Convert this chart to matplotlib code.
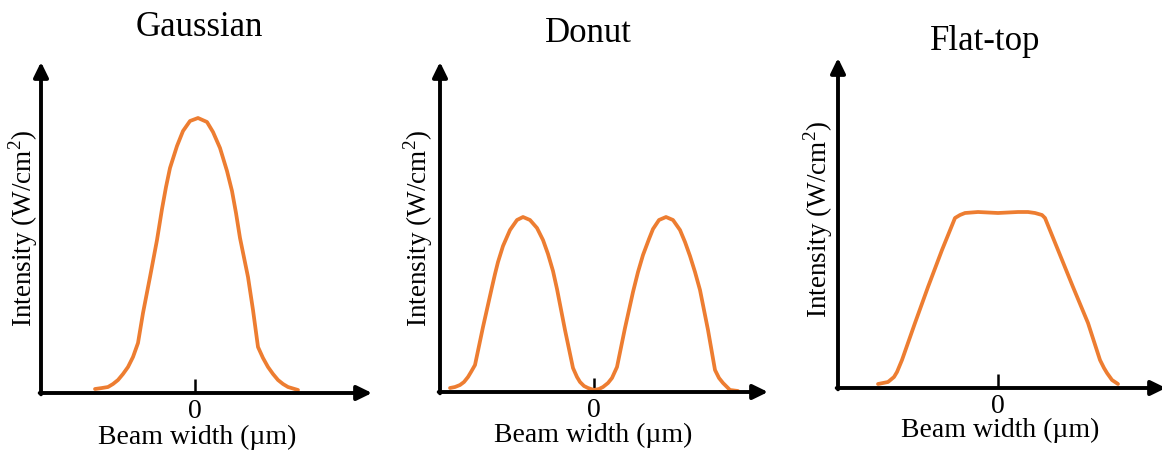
#!/usr/bin/env python3
"""
Beam intensity profiles: Gaussian, donut and flat-top, drawn as
three hand-style sketches with arrowed axes.
"""

import matplotlib.pyplot as plt

W, H = 1162, 453
ORANGE = "#ED7D31"
FONT = "Liberation Serif"

plt.rcParams["mathtext.fontset"] = "custom"
plt.rcParams["mathtext.rm"] = FONT

# Profiles (beam position, intensity), arbitrary units
gauss_x = [-1.00, -0.93, -0.87, -0.82, -0.77, -0.72, -0.67, -0.62, -0.57, -0.52,
           -0.45, -0.38, -0.33, -0.29, -0.25, -0.18, -0.12, -0.05, 0.03, 0.12,
           0.18, 0.25, 0.32, 0.37, 0.41, 0.45, 0.53, 0.58, 0.63, 0.68,
           0.73, 0.78, 0.83, 0.88, 0.93, 1.03]
gauss_y = [0.04, 0.05, 0.06, 0.09, 0.13, 0.19, 0.26, 0.36, 0.50, 0.80,
           1.16, 1.53, 1.84, 2.06, 2.25, 2.47, 2.62, 2.72, 2.75, 2.71,
           2.61, 2.45, 2.22, 2.02, 1.80, 1.55, 1.16, 0.83, 0.46, 0.35,
           0.26, 0.19, 0.13, 0.09, 0.06, 0.03]

donut_x = [-1.44, -1.39, -1.34, -1.30, -1.26, -1.23, -1.19, -1.11, -1.02, -0.99,
           -0.96, -0.91, -0.84, -0.77, -0.71, -0.64, -0.57, -0.51, -0.46, -0.41,
           -0.37, -0.29, -0.21, -0.17, -0.14, -0.10, -0.06, 0.00, 0.05, 0.09,
           0.14, 0.18, 0.23, 0.31, 0.39, 0.44, 0.49, 0.55, 0.59, 0.65,
           0.72, 0.79, 0.86, 0.91, 0.96, 1.01, 1.06, 1.14, 1.21, 1.25,
           1.29, 1.33, 1.36, 1.44]
donut_y = [0.04, 0.05, 0.07, 0.10, 0.15, 0.20, 0.27, 0.65, 1.05, 1.18,
           1.30, 1.46, 1.62, 1.72, 1.75, 1.72, 1.64, 1.52, 1.38, 1.21,
           1.03, 0.62, 0.24, 0.15, 0.10, 0.06, 0.04, 0.02, 0.03, 0.05,
           0.09, 0.14, 0.25, 0.64, 1.00, 1.20, 1.37, 1.53, 1.63, 1.72,
           1.75, 1.72, 1.62, 1.50, 1.36, 1.20, 1.02, 0.62, 0.22, 0.14,
           0.09, 0.05, 0.02, 0.01]

flat_x = [-1.20, -1.10, -1.04, -1.01, -0.96, -0.83, -0.70, -0.56, -0.43, -0.38,
          -0.33, -0.20, 0.00, 0.20, 0.30, 0.37, 0.44, 0.47, 0.60, 0.75,
          0.90, 1.02, 1.06, 1.09, 1.14, 1.20]
flat_y = [0.04, 0.06, 0.11, 0.16, 0.28, 0.65, 1.01, 1.38, 1.70, 1.73,
          1.75, 1.76, 1.75, 1.76, 1.76, 1.75, 1.73, 1.70, 1.38, 1.01,
          0.65, 0.28, 0.20, 0.15, 0.08, 0.04]

TITLES = ["Gaussian", "Donut", "Flat-top"]
XLABEL = "Beam width (µm)"
YLABEL = "Intensity (W/cm$^2$)"
ZERO_LABEL = "0"

# Layout in pixels: axis origin (x0, y0), arrow tips (x1, y1), zero tick x,
# and centres for title / y label / x label
PANELS = [
    dict(x0=41, y0=393, x1=372, y1=62, zero=195,
         title=(199, 28), ylab=(23, 228), xlab=(197, 437)),
    dict(x0=440, y0=392, x1=768, y1=62, zero=594,
         title=(588, 33), ylab=(418, 228), xlab=(593, 435)),
    dict(x0=838, y0=388, x1=1166, y1=58, zero=998,
         title=(985, 42), ylab=(818, 219), xlab=(1000, 430)),
]
PX = 100.0  # pixels per data unit


def fx(px):
    return px / W


def fy(py):
    return 1 - py / H


def draw_panel(fig, lay, xs, ys, title):
    ax = fig.add_axes([fx(lay["x0"]), fy(lay["y0"]),
                       (lay["x1"] - lay["x0"]) / W, (lay["y0"] - lay["y1"]) / H])
    ax.set_xlim((lay["x0"] - lay["zero"]) / PX, (lay["x1"] - lay["zero"]) / PX)
    ax.set_ylim(0, (lay["y0"] - lay["y1"]) / PX)
    ax.patch.set_alpha(0)
    for s in ax.spines.values():
        s.set_visible(False)

    ax.plot(xs, ys, color=ORANGE, lw=2.7, solid_capstyle="round",
            solid_joinstyle="round", clip_on=False, zorder=3)

    # arrowed axes
    arrow = dict(arrowstyle="-|>,head_length=0.45,head_width=0.22", lw=2.8,
                 color="black", shrinkA=0, shrinkB=0, mutation_scale=20)
    ax.annotate("", xy=(1, 0), xytext=(-0.004, 0), xycoords="axes fraction",
                arrowprops=arrow)
    ax.annotate("", xy=(0, 1), xytext=(0, -0.004), xycoords="axes fraction",
                arrowprops=arrow)

    ax.set_yticks([])
    ax.set_xticks([0])
    ax.set_xticklabels([ZERO_LABEL], fontsize=20, family=FONT)
    ax.tick_params(axis="x", direction="in", length=10, width=1.8, pad=4)

    fig.text(fx(lay["title"][0]), fy(lay["title"][1]), title,
             ha="center", va="center", fontsize=25, family=FONT)
    fig.text(fx(lay["ylab"][0]), fy(lay["ylab"][1]), YLABEL, rotation=90,
             ha="center", va="center", fontsize=19.5, family=FONT)
    fig.text(fx(lay["xlab"][0]), fy(lay["xlab"][1]), XLABEL,
             ha="center", va="center", fontsize=20, family=FONT)


def main():
    fig = plt.figure(figsize=(W / 100, H / 100), dpi=100)
    profiles = [(gauss_x, gauss_y), (donut_x, donut_y), (flat_x, flat_y)]
    for lay, (xs, ys), title in zip(PANELS, profiles, TITLES):
        draw_panel(fig, lay, xs, ys, title)
    fig.savefig("out.png", dpi=100, facecolor="white")
    plt.close(fig)


if __name__ == "__main__":
    main()
